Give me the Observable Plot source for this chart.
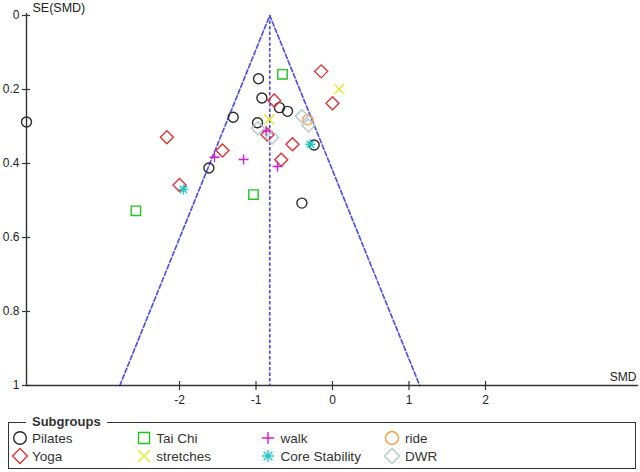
<!DOCTYPE html>
<html>
<head>
<meta charset="utf-8">
<script src="https://cdn.jsdelivr.net/npm/d3@7"></script>
<script src="https://cdn.jsdelivr.net/npm/@observablehq/plot@0.6"></script>
<style>
html, body { margin: 0; padding: 0; background: #fff; }
#wrap { position: relative; width: 640px; height: 472px; overflow: hidden; font-family: "Liberation Sans", Arial, sans-serif; color: #222; }
#chart { position: absolute; left: 0; top: 0; }
#legendBox { position: absolute; left: 8px; top: 422px; width: 628px; height: 47px; border: 1.5px solid #333; box-sizing: border-box; }
#legendTitle { position: absolute; left: 26px; top: 414px; padding: 0 6px; background: #fff; font-weight: bold; font-size: 13px; line-height: 16px; color: #333; }
.item-text { position: absolute; font-size: 13.5px; line-height: 16px; color: #333; white-space: nowrap; }
.item-sym { position: absolute; width: 18px; height: 18px; overflow: visible; }
</style>
</head>
<body>
<div id="wrap">
  <div id="chart"></div>
  <div id="legendBox"></div>
  <div id="legendTitle">Subgroups</div>
</div>
<script>
// ---- Data ----
const groups = ["Pilates", "Yoga", "Tai Chi", "stretches", "walk", "Core Stability", "ride", "DWR"];
const groupColors = ["#2a2a2a", "#dd3333", "#22c422", "#e6e61e", "#d21ed2", "#1ec8c8", "#ff9933", "#b4c6ca"];

const pilatesSMD = [-4.0, -0.967, -0.923, -0.693, -0.588, -1.298, -0.98, -0.24, -1.616, -0.40];
const pilatesSE  = [0.288, 0.171, 0.223, 0.249, 0.259, 0.275, 0.290, 0.350, 0.412, 0.507];
const yogaSMD = [-0.148, 0.0, -0.762, -0.85, -0.523, -2.165, -1.438, -0.67, -2.0];
const yogaSE  = [0.151, 0.237, 0.230, 0.322, 0.348, 0.329, 0.365, 0.390, 0.458];
const taichiSMD = [-0.654, -1.033, -2.57];
const taichiSE  = [0.159, 0.484, 0.528];
const stretchesSMD = [0.088, -0.827];
const stretchesSE  = [0.199, 0.281];
const walkSMD = [-0.867, -1.542, -1.163, -0.719];
const walkSE  = [0.312, 0.383, 0.389, 0.408];
const coreSMD = [-0.29, -1.948];
const coreSE  = [0.348, 0.470];
const rideSMD = [-0.322];
const rideSE  = [0.282];
const dwrSMD = [-0.40, -0.314, -0.975, -0.79];
const dwrSE  = [0.272, 0.297, 0.305, 0.330];

const pooledSMD = -0.82;
const funnelSMD = [-2.78, -0.82, 1.14];
const funnelSE  = [1, 0, 1];

const xTicks = [-2, -1, 0, 1, 2];
const yTicks = [0, 0.2, 0.4, 0.6, 0.8, 1];
const yTickLabels = ["0", "0.2", "0.4", "0.6", "0.8", "1"];
const xDomain = [-4, 4];
const yDomain = [0, 1];

// ---- Symbols ----
const mk = f => ({ draw(ctx, size) { const r = Math.sqrt(size / Math.PI); f(ctx, r); } });
const symCircle = mk((c, r) => { c.moveTo(r, 0); c.arc(0, 0, r, 0, 2 * Math.PI); });
const symDiamond = mk((c, r) => { c.moveTo(0, -r); c.lineTo(r, 0); c.lineTo(0, r); c.lineTo(-r, 0); c.closePath(); });
const symSquare = mk((c, r) => { c.moveTo(-r, -r); c.lineTo(r, -r); c.lineTo(r, r); c.lineTo(-r, r); c.closePath(); });
const symPlus = mk((c, r) => { c.moveTo(-r, 0); c.lineTo(r, 0); c.moveTo(0, -r); c.lineTo(0, r); });
const symTimes = mk((c, r) => { c.moveTo(-r, -r); c.lineTo(r, r); c.moveTo(-r, r); c.lineTo(r, -r); });
const symAst = mk((c, r) => {
  const d = r * 0.72;
  c.moveTo(0, -r); c.lineTo(0, r);
  c.moveTo(-r, 0); c.lineTo(r, 0);
  c.moveTo(-d, -d); c.lineTo(d, d);
  c.moveTo(-d, d); c.lineTo(d, -d);
});

const groupSymbols = [symCircle, symDiamond, symSquare, symTimes, symPlus, symAst, symCircle, symDiamond];
const plotR = [5, 6.5, 4.7, 5, 5, 5, 5, 6.5];
const legendR = [6.3, 7.5, 5.5, 6, 6, 6, 6.5, 7.5];

const seriesSMD = [pilatesSMD, yogaSMD, taichiSMD, stretchesSMD, walkSMD, coreSMD, rideSMD, dwrSMD];
const seriesSE = [pilatesSE, yogaSE, taichiSE, stretchesSE, walkSE, coreSE, rideSE, dwrSE];

const tables = groups.map((g, gi) => seriesSMD[gi].map((v, i) => ({ group: g, smd: v, se: seriesSE[gi][i] })));
const funnel = funnelSMD.map((v, i) => ({ smd: v, se: funnelSE[i] }));

const axisColor = "#333";
const funnelColor = "#5252e6";

const marks = [
  // funnel
  Plot.line(funnel, { x: "smd", y: "se", stroke: funnelColor, strokeWidth: 1.7, strokeDasharray: "4.5,2.5" }),
  Plot.ruleX([pooledSMD], { x: d => d, y1: () => 0, y2: () => 1, stroke: funnelColor, strokeWidth: 1.7, strokeDasharray: "3.5,2" }),
  // axes lines
  Plot.ruleX([xDomain[0]], { x: d => d, y1: () => 0, y2: () => 1, insetTop: -2, stroke: axisColor, strokeWidth: 1.4 }),
  Plot.ruleY([yDomain[1]], { y: d => d, x1: () => xDomain[0], x2: () => xDomain[1], stroke: axisColor, strokeWidth: 1.4 }),
  // ticks
  Plot.ruleY(yTicks, { y: d => d, x1: () => xDomain[0], x2: () => xDomain[0], insetLeft: -4, insetRight: -4, stroke: axisColor, strokeWidth: 1.2 }),
  Plot.ruleX(xTicks, { x: d => d, y1: () => 1, y2: () => 1, insetTop: -4, insetBottom: -5, stroke: axisColor, strokeWidth: 1.2 }),
  // tick labels
  Plot.text(xTicks, { x: d => d, y: () => 1, dy: 15, text: d => String(d), fill: "#222", fontSize: 12 }),
  Plot.text(yTicks, { x: () => xDomain[0], y: d => d, dx: -7, textAnchor: "end", text: (d, i) => yTickLabels[i], fill: "#222", fontSize: 12 }),
  // axis titles
  Plot.text(["SE(SMD)"], { x: () => xDomain[0], y: () => 0, dx: 6, dy: -8, textAnchor: "start", text: d => d, fill: "#222", fontSize: 12.5 }),
  Plot.text(["SMD"], { x: () => xDomain[1], y: () => 1, dx: -2, dy: -8, textAnchor: "end", text: d => d, fill: "#222", fontSize: 12 })
];

tables.forEach((t, gi) => {
  marks.push(Plot.dot(t, {
    x: "smd", y: "se", symbol: groupSymbols[gi], r: plotR[gi],
    stroke: groupColors[gi], strokeWidth: 1.4, fill: "none"
  }));
});

const chart = Plot.plot({
  width: 640,
  height: 415,
  marginLeft: 26,
  marginRight: 2,
  marginTop: 15,
  marginBottom: 30,
  x: { domain: xDomain, axis: null },
  y: { domain: yDomain, reverse: true, axis: null },
  style: { fontFamily: "'Liberation Sans', Arial, sans-serif", background: "#fff", overflow: "visible" },
  marks
});
document.getElementById("chart").appendChild(chart);

// ---- Legend ----
const wrap = document.getElementById("wrap");
const colStep = 124.3;
groups.forEach((g, i) => {
  const col = Math.floor(i / 2), row = i % 2;
  const cx = 19.5 + col * colStep;
  const cy = 438 + row * 18;
  const svg = d3.create("svg").attr("class", "item-sym").attr("width", 18).attr("height", 18)
    .style("left", (cx - 9) + "px").style("top", (cy - 9) + "px");
  svg.append("path")
    .attr("transform", "translate(9,9)")
    .attr("d", d3.symbol(groupSymbols[i], Math.PI * legendR[i] * legendR[i])())
    .attr("fill", "none").attr("stroke", groupColors[i]).attr("stroke-width", 1.4);
  wrap.appendChild(svg.node());
  const span = document.createElement("div");
  span.className = "item-text";
  span.textContent = g;
  span.style.left = (32 + col * colStep) + "px";
  span.style.top = (cy - 7) + "px";
  wrap.appendChild(span);
});
</script>
</body>
</html>
